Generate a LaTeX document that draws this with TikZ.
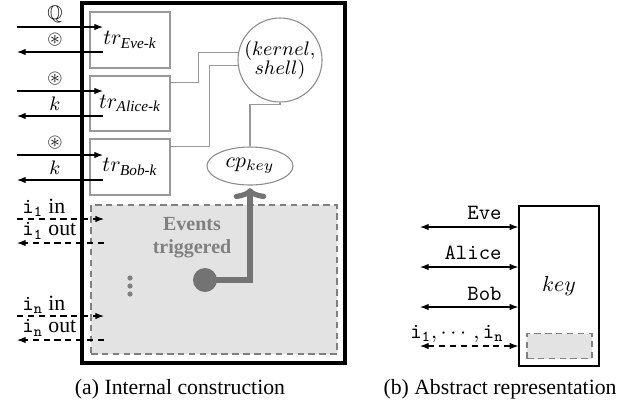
\documentclass[tikz,border=0pt]{standalone}
\usepackage{amsmath,amssymb}
\usepackage{fontspec}
\setmainfont{Liberation Serif}
\usetikzlibrary{arrows.meta,calc,shapes.geometric}
\begin{document}
\begin{tikzpicture}[x=0.46pt,y=-0.46pt,
  trbox/.style={draw=black!40, line width=0.5pt, minimum width={80*0.46pt}, minimum height={56*0.46pt}, inner sep=0pt, font=\fontsize{10}{12}\selectfont},
  conn/.style={draw=black!40, line width=0.5pt},
  arr/.style={-{Latex[length=4pt,width=3pt]}, line width=0.5pt},
  darr/.style={arr, dash pattern=on 2.8pt off 2.2pt},
  biarr/.style={{Latex[length=4pt,width=3pt]}-{Latex[length=4pt,width=3pt]}, line width=0.5pt},
  lbl/.style={inner sep=0pt, font=\fontsize{9}{11}\selectfont},
  ilbl/.style={inner sep=0pt, anchor=west, font=\fontsize{10}{12}\selectfont},
  tlbl/.style={inner sep=0pt, anchor=east, font=\fontsize{10}{12}\selectfont\ttfamily},
  grayregion/.style={draw=black!50, fill=black!11, dash pattern=on 3pt off 2pt},
  captext/.style={inner sep=0pt, anchor=base, font=\fontsize{10}{12}\selectfont},
]
\useasboundingbox (0,0) rectangle (628,405);

% ---------- (a) internal construction ----------
\node[draw, line width=2pt, minimum width={263*0.46pt}, minimum height={360*0.46pt}] (outer) at (213.5,183) {};
\node[grayregion, line width=1pt, minimum width={246*0.46pt}, minimum height={149*0.46pt}] (ev) at (214,279.5) {};

\node[trbox] (eve) at (130,40) {$tr_{\textit{Eve-k}}$};
\node[trbox, minimum height={55*0.46pt}] (alice) at (130,103.5) {$tr_{\textit{Alice-k}}$};
\node[trbox] (bob) at (130,167) {$tr_{\textit{Bob-k}}$};

\node[circle, draw=black!45, line width=0.5pt, minimum size={84*0.46pt}, inner sep=0pt, align=center,
      font={\fontsize{9}{8.4}\selectfont\lineskiplimit=-6pt}] (k) at (280,60) {$(kernel,$\\$shell)$};
\node[ellipse, draw=black!45, line width=0.5pt, minimum width={86*0.46pt}, minimum height={38*0.46pt}, inner sep=0pt,
      font=\fontsize{10}{12}\selectfont] (cp) at (250,166) {$cp_{key}$};

\draw[conn] ([yshift=-3.4pt]alice.north east) -- ++(28,0) |- (k.170);
\draw[conn] ([yshift=-3.6pt]bob.north east) -- ++(39,0) |- (k.187);
\draw[conn] (k.south) -- ++(0,2) -| (cp.north);

\node[align=center, inner sep=0pt, text=black!50, font={\fontsize{9.2}{10.6}\selectfont\bfseries}] (evt) at (192,238) {Events\\triggered};
\node[circle, fill=black!55, minimum size={24*0.46pt}, inner sep=0pt] (dot) at (205,280) {};
\draw[black!55, line width=2.4pt, -{Computer Modern Rightarrow[width=15pt,length=5pt]}] (dot.center) -| ([yshift=-1.2pt]cp.south);
\fill[black!50] (130,278) circle (2.6) (130,286) circle (2.6) (130,294) circle (2.6);

% left arrows
\draw[arr] (17,27) -- (103,27);
\draw[arr] (103,52) -- (17,52);
\node[lbl] (lq) at (55,14) {$\mathbb{Q}$};
\node[lbl] (la) at (55,40) {$\circledast$};
\draw[arr] (17,91) -- (103,91);
\draw[arr] (103,116) -- (17,116);
\node[lbl] (lb) at (55,79) {$\circledast$};
\node[lbl] (lc) at (55,104) {$k$};
\draw[arr] (17,155) -- (103,155);
\draw[arr] (103,180) -- (17,180);
\node[lbl] (ld) at (55,143) {$\circledast$};
\node[lbl] (le) at (55,168) {$k$};

\draw[darr] (17,219) -- (104,219);
\draw[darr] (104,243) -- (17,243);
\node[ilbl] (i1in) at (22,208) {\texttt{i}$_{\texttt{1}}$ in};
\node[ilbl] (i1out) at (22,231) {\texttt{i}$_{\texttt{1}}$ out};
\draw[darr] (17,316) -- (104,316);
\draw[darr] (104,340) -- (17,340);
\node[ilbl] (inin) at (22,305) {\texttt{i}$_{\texttt{n}}$ in};
\node[ilbl] (inout) at (22,328) {\texttt{i}$_{\texttt{n}}$ out};

\node[captext] (capa) at (180,394) {(a) Internal construction};

% ---------- (b) abstract representation ----------
\node[draw, line width=0.6pt, minimum width={80*0.46pt}, minimum height={160*0.46pt}, font=\fontsize{10}{12}\selectfont] (key) at (559,286) {$key$};
\node[grayregion, line width=0.6pt, minimum width={65*0.46pt}, minimum height={25*0.46pt}] (ik) at (559.5,346) {};

\draw[biarr] (420,227) -- (key.west |- 0,227);
\draw[biarr] (420,267) -- (key.west |- 0,267);
\draw[biarr] (420,307) -- (key.west |- 0,307);
\draw[biarr, dash pattern=on 2.8pt off 2.2pt] (420,346) -- (key.west |- 0,346);
\node[tlbl] (teve) at (502,213) {Eve};
\node[tlbl] (talice) at (502,253) {Alice};
\node[tlbl] (tbob) at (502,294) {Bob};
\node[lbl, anchor=east, font=\fontsize{10}{12}\selectfont] (tis) at (504,334) {$\texttt{i}_{\texttt{1}},\cdots,\texttt{i}_{\texttt{n}}$};

\node[captext] (capb) at (500,394) {(b) Abstract representation};
\end{tikzpicture}
\end{document}
